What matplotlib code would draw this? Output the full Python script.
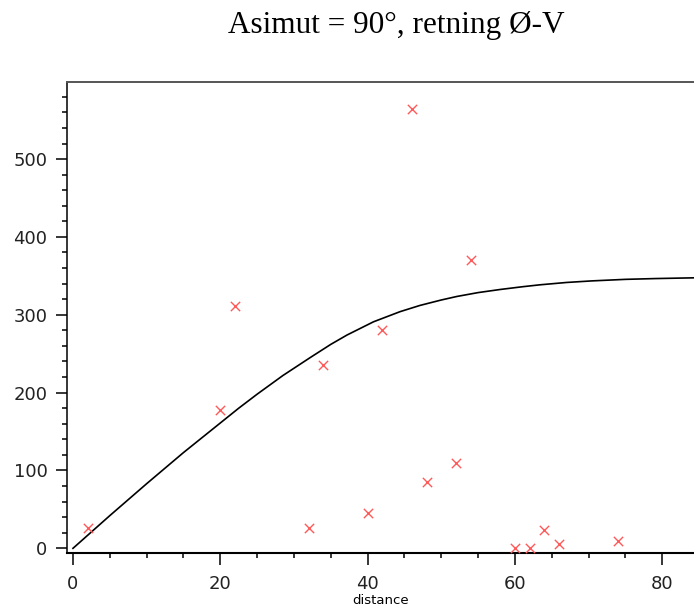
import matplotlib
matplotlib.use('Agg')
import matplotlib.pyplot as plt
from matplotlib.ticker import MultipleLocator

dist = [2, 20, 22, 32, 34, 40, 42, 46, 48, 52, 54, 60, 62, 64, 66, 74]
gamma = [26, 178, 311, 26, 235, 45, 280, 564, 85, 110, 371, 0, 0, 24, 5, 10]

# fitted model curve
model_x = [0, 5, 10, 15, 20, 22.5, 25, 28.5, 32.2, 35, 37.2, 40.8, 44.4,
           47.1, 50, 52.1, 55, 58, 61, 63.4, 67, 70.4, 75, 79, 84.5]
model_y = [0, 42, 83, 123, 161, 180, 198, 222, 245, 262, 274, 291, 304,
           312, 319, 323.5, 328.5, 332.5, 336, 338.5, 341.5, 343.5, 345.5,
           346.5, 347.5]

title = 'Asimut = 90°, retning Ø-V'

fig = plt.figure(figsize=(6.94, 6.13), dpi=100)
ax = fig.add_axes([67 / 694, 1 - 553 / 613, 1 - 67 / 694, (553 - 82) / 613])

ax.plot(model_x, model_y, color='black', lw=1.2)
ax.scatter(dist, gamma, marker='x', s=45, color='#ff5a5a', linewidths=1.0, zorder=3)

ax.set_xlim(-0.81, 84.3)
ax.set_ylim(-6, 599)

ax.xaxis.set_major_locator(MultipleLocator(20))
ax.xaxis.set_minor_locator(MultipleLocator(5))
ax.yaxis.set_major_locator(MultipleLocator(100))
ax.yaxis.set_minor_locator(MultipleLocator(20))

ax.spines['right'].set_visible(False)
ax.spines['top'].set_color('#555555')
ax.spines['top'].set_linewidth(1.4)
ax.spines['left'].set_linewidth(1.1)
ax.spines['bottom'].set_linewidth(1.5)

ax.tick_params(which='major', direction='out', length=8, width=1.1,
               labelsize=13, labelcolor='#222222', pad=6)
ax.tick_params(which='minor', direction='out', length=3.8, width=1.1)
ax.tick_params(axis='x', which='major', length=8.5, pad=7)
ax.tick_params(top=False, right=False, which='both')

ax.set_xlabel('distance', fontsize=9.5, labelpad=1)

fig.text(396 / 694, 1 - 33 / 613, title, ha='center', va='baseline',
         fontsize=22.5, family='Liberation Serif')

fig.savefig('out.png', dpi=100)
